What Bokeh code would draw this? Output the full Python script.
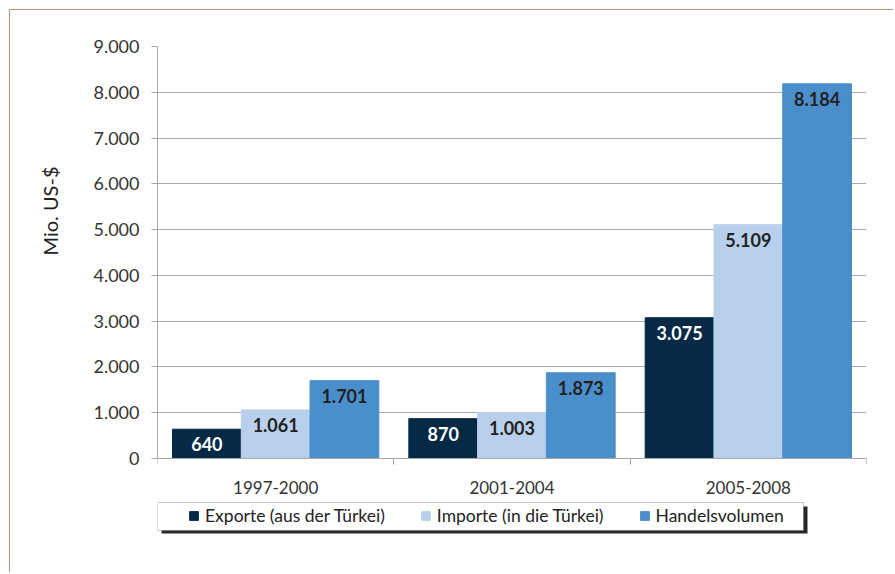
from bokeh.plotting import figure
from bokeh.models import (ColumnDataSource, Range1d, FixedTicker, BoxAnnotation,
                          Legend, LegendItem, LabelSet, Title)
from bokeh.core.properties import value
from bokeh.transform import dodge
from bokeh.embed import file_html
from bokeh.resources import INLINE

# ---- data ----
categories = ["1997-2000", "2001-2004", "2005-2008"]
exporte = [640, 870, 3075]
importe = [1061, 1003, 5109]
handel = [1701, 1873, 8184]
series_names = ["Exporte (aus der Türkei)", "Importe (in die Türkei)", "Handelsvolumen"]
y_ticks = [0, 1000, 2000, 3000, 4000, 5000, 6000, 7000, 8000, 9000]
y_label = "Mio. US-$"

colors = ["#062A45", "#B9D0EC", "#4A8FCB"]
label_colors = ["white", "#222222", "#222222"]
FONT = "Lato"

def fmt(v):
    return f"{v:,}".replace(",", ".")

idx = list(range(len(categories)))
src = ColumnDataSource(dict(
    idx=idx,
    exporte=exporte, importe=importe, handel=handel,
    exporte_t=[fmt(v) for v in exporte],
    importe_t=[fmt(v) for v in importe],
    handel_t=[fmt(v) for v in handel],
))

# frame extends below zero so the legend lives inside it
p = figure(width=884, height=563, output_backend="svg", toolbar_location=None,
           x_range=Range1d(-0.5, len(categories) - 0.5), y_range=Range1d(-1638, 9000),
           min_border_left=146, min_border_right=28, min_border_top=36, min_border_bottom=40)
p.outline_line_color = None
p.background_fill_color = "white"
p.border_fill_color = "white"
p.margin = (9, 0, 0, 9)
p.styles = {"border-top": "1px solid #C8956A", "border-left": "1px solid #C8956A",
            "border-right": "none", "border-bottom": "none"}

bw = 0.291
fields = ["exporte", "importe", "handel"]
offsets = [-bw, 0.0, bw]
renderers = []
for f, off, c, lc in zip(fields, offsets, colors, label_colors):
    r = p.vbar(x=dodge("idx", off), top=f, bottom=0, width=bw, source=src,
               fill_color=c, line_color=c, line_width=1)
    renderers.append(r)
    ls = LabelSet(x=dodge("idx", off), y=f, text=f + "_t", source=src,
                  text_align="center", text_baseline="top", y_offset=-8,
                  text_font=value(FONT), text_font_size="18px", text_font_style="bold",
                  text_color=lc)
    p.add_layout(ls)

# x axis drawn at y = 0
p.xaxis.fixed_location = 0
p.xaxis.ticker = FixedTicker(ticks=idx, minor_ticks=[i - 0.5 for i in idx] + [idx[-1] + 0.5])
p.xaxis.major_label_overrides = {i: c for i, c in zip(idx, categories)}
p.xaxis.major_tick_line_color = None
p.xaxis.major_tick_out = 0
p.xaxis.major_tick_in = 0
p.xaxis.minor_tick_line_color = "#A6A6A6"
p.xaxis.minor_tick_out = 6
p.xaxis.minor_tick_in = 0
p.xaxis.axis_line_color = "#A6A6A6"
p.xaxis.major_label_standoff = 16
p.xaxis.major_label_text_font = FONT
p.xaxis.major_label_text_font_size = "17px"
p.xaxis.major_label_text_color = "#333333"

p.yaxis.bounds = (0, 9000)
p.yaxis.ticker = FixedTicker(ticks=y_ticks, minor_ticks=[])
p.yaxis.major_label_overrides = {t: fmt(t) for t in y_ticks}
p.yaxis.major_tick_line_color = "#A6A6A6"
p.yaxis.major_tick_out = 6
p.yaxis.major_tick_in = 0
p.yaxis.minor_tick_line_color = None
p.yaxis.axis_line_color = "#A6A6A6"
p.yaxis.major_label_standoff = 12
p.yaxis.major_label_text_font = FONT
p.yaxis.major_label_text_font_size = "18px"
p.yaxis.major_label_text_color = "#333333"

p.xgrid.grid_line_color = None
p.ygrid.grid_line_color = "#ABABAB"
p.ygrid.grid_line_width = 1

# y label as a title in the left panel
p.add_layout(Title(text=y_label, align="right", offset=120, standoff=54, vertical_align="top",
                   text_font=FONT, text_font_size="20px", text_font_style="normal",
                   text_color="#222222"), "left")

# legend shadow + box (screen units, relative to the frame)
p.add_layout(BoxAnnotation(left=4, right=650, top=27, bottom=-2,
                           left_units="screen", right_units="screen",
                           top_units="screen", bottom_units="screen",
                           fill_color="#111111", fill_alpha=0.9, line_color=None))
p.add_layout(BoxAnnotation(left=0, right=646, top=31, bottom=3,
                           left_units="screen", right_units="screen",
                           top_units="screen", bottom_units="screen",
                           fill_color="white", fill_alpha=1.0, line_color="#404040",
                           line_width=1))

legend = Legend(items=[LegendItem(label=n, renderers=[r]) for n, r in zip(series_names, renderers)],
                orientation="horizontal", location=(31, 7),
                padding=0, margin=0, spacing=35, label_standoff=6,
                glyph_width=11, glyph_height=11, label_height=20,
                border_line_color=None, background_fill_alpha=0,
                label_text_font=FONT, label_text_font_size="17.5px",
                label_text_color="#222222")
p.add_layout(legend)

open("out.html", "w").write(file_html(p, INLINE))
